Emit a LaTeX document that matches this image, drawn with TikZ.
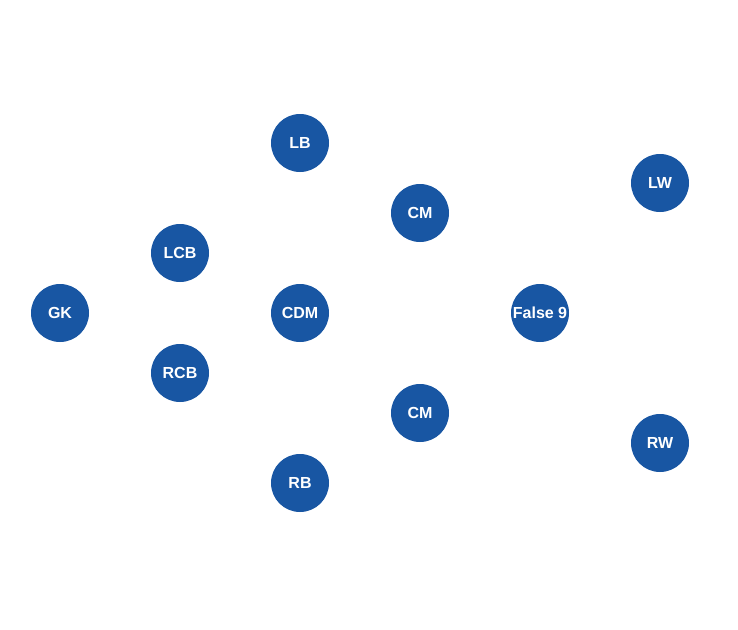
\documentclass[tikz,border=0pt]{standalone}
\usepackage{fontspec}
\setmainfont{Liberation Sans}
\definecolor{player}{HTML}{1856A3}
\begin{document}
\begin{tikzpicture}[x=1pt,y=-1pt,
  player/.style={circle,fill=player,minimum size=58pt,inner sep=0pt,text=white,font=\fontsize{16}{18}\selectfont\bfseries}]
\useasboundingbox[fill=white] (0,0) rectangle (738,629);
\node[player] (gk) at (60,313) {GK};
\node[player] (lcb) at (180,253) {LCB};
\node[player] (rcb) at (180,373) {RCB};
\node[player] (lb) at (300,143) {LB};
\node[player] (cdm) at (300,313) {CDM};
\node[player] (rb) at (300,483) {RB};
\node[player] (cm1) at (420,213) {CM};
\node[player] (cm2) at (420,413) {CM};
\node[player] (f9) at (540,313) {False 9};
\node[player] (lw) at (660,183) {LW};
\node[player] (rw) at (660,443) {RW};
\end{tikzpicture}
\end{document}
